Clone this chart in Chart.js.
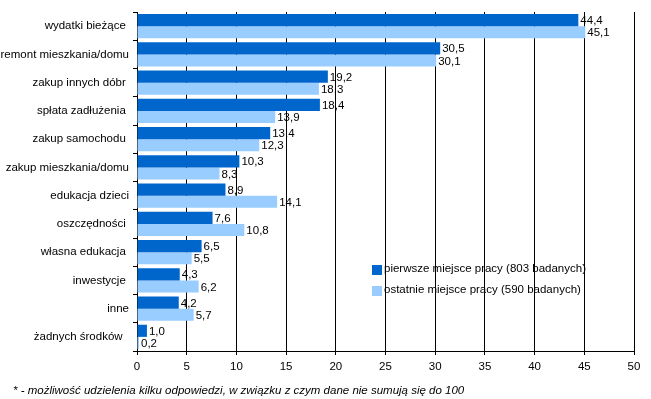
<!DOCTYPE html>
<html>
<head>
<meta charset="utf-8">
<script src="https://cdn.jsdelivr.net/npm/chart.js@4/dist/chart.umd.min.js"></script>
<style>
html,body{margin:0;padding:0;background:#fff;}
#wrap{width:651px;height:399px;position:relative;}
</style>
</head>
<body>
<div id="wrap"><canvas id="c" width="651" height="399"></canvas></div>
<script>
const categories = ["wydatki bieżące ", "remont mieszkania/domu", "zakup innych dóbr ", "spłata zadłużenia ", "zakup samochodu ", "zakup mieszkania/domu", "edukacja dzieci", "oszczędności ", "własna edukacja ", "inwestycje ", "inne", "żadnych środków  "];
const firstJob = [44.4, 30.5, 19.2, 18.4, 13.4, 10.3, 8.9, 7.6, 6.5, 4.3, 4.2, 1.0];
const lastJob = [45.1, 30.1, 18.3, 13.9, 12.3, 8.3, 14.1, 10.8, 5.5, 6.2, 5.7, 0.2];
const seriesNames = ["pierwsze miejsce pracy (803 badanych)", "ostatnie miejsce pracy (590 badanych)"];
const xTicks = [0, 5, 10, 15, 20, 25, 30, 35, 40, 45, 50];
const footnote = "* - możliwość udzielenia kilku odpowiedzi, w związku z czym dane nie sumują się do 100";

const FONT = "Liberation Sans, Arial, sans-serif";
const FS = 11.5;

const labelsPlugin = {
  id: 'valLabels',
  afterDatasetsDraw(chart) {
    const ctx = chart.ctx;
    ctx.save();
    ctx.font = FS + "px " + FONT;
    ctx.fillStyle = "#000";
    ctx.textAlign = "left";
    ctx.textBaseline = "middle";
    chart.data.datasets.forEach((ds, di) => {
      const meta = chart.getDatasetMeta(di);
      meta.data.forEach((bar, i) => {
        const v = ds.data[i];
        ctx.fillText(v.toFixed(1).replace('.', ','), bar.x + 2, bar.y + 1);
      });
    });
    ctx.restore();
  }
};

const legendPlugin = {
  id: 'customLegend',
  afterDraw(chart) {
    const ctx = chart.ctx;
    ctx.save();
    ctx.font = FS + "px " + FONT;
    ctx.textBaseline = "middle";
    ctx.textAlign = "left";
    const lx = 372, ly = 270, gap = 21;
    chart.data.datasets.forEach((ds, di) => {
      const y = ly + di * gap;
      ctx.fillStyle = ds.backgroundColor;
      ctx.fillRect(lx, y - 5, 10, 10);
      ctx.fillStyle = "#000";
      ctx.fillText(ds.label, lx + 12, y - 1);
    });
    ctx.font = "italic " + FS + "px " + FONT;
    ctx.fillText(footnote, 13, 391);
    ctx.restore();
  }
};

new Chart(document.getElementById('c'), {
  type: 'bar',
  data: {
    labels: categories,
    datasets: [
      { label: seriesNames[0], data: firstJob, backgroundColor: "#0066CC", categoryPercentage: 0.86, barPercentage: 1.0 },
      { label: seriesNames[1], data: lastJob, backgroundColor: "#99CCFF", categoryPercentage: 0.86, barPercentage: 1.0 }
    ]
  },
  options: {
    indexAxis: 'y',
    responsive: false,
    animation: false,
    devicePixelRatio: 1,
    layout: { padding: { top: 12, right: 17, left: 0, bottom: 0 } },
    plugins: { legend: { display: false }, tooltip: { enabled: false } },
    scales: {
      x: {
        min: 0, max: 50,
        afterBuildTicks(scale) { scale.ticks = xTicks.map(v => ({ value: v })); },
        afterFit(scale) { scale.height = 48; },
        grid: { color: "#000", lineWidth: 1, tickLength: 4, drawTicks: true },
        border: { color: "#000", width: 1 },
        ticks: { color: "#000", font: { family: FONT, size: FS }, padding: 5, maxRotation: 0 }
      },
      y: {
        afterFit(scale) { scale.width = 137; },
        grid: { drawOnChartArea: false, color: "#000", tickLength: 4, offset: true },
        border: { color: "#000", width: 1 },
        ticks: { color: "#000", font: { family: FONT, size: FS }, padding: 4, autoSkip: false }
      }
    }
  },
  plugins: [labelsPlugin, legendPlugin]
});
</script>
</body>
</html>
